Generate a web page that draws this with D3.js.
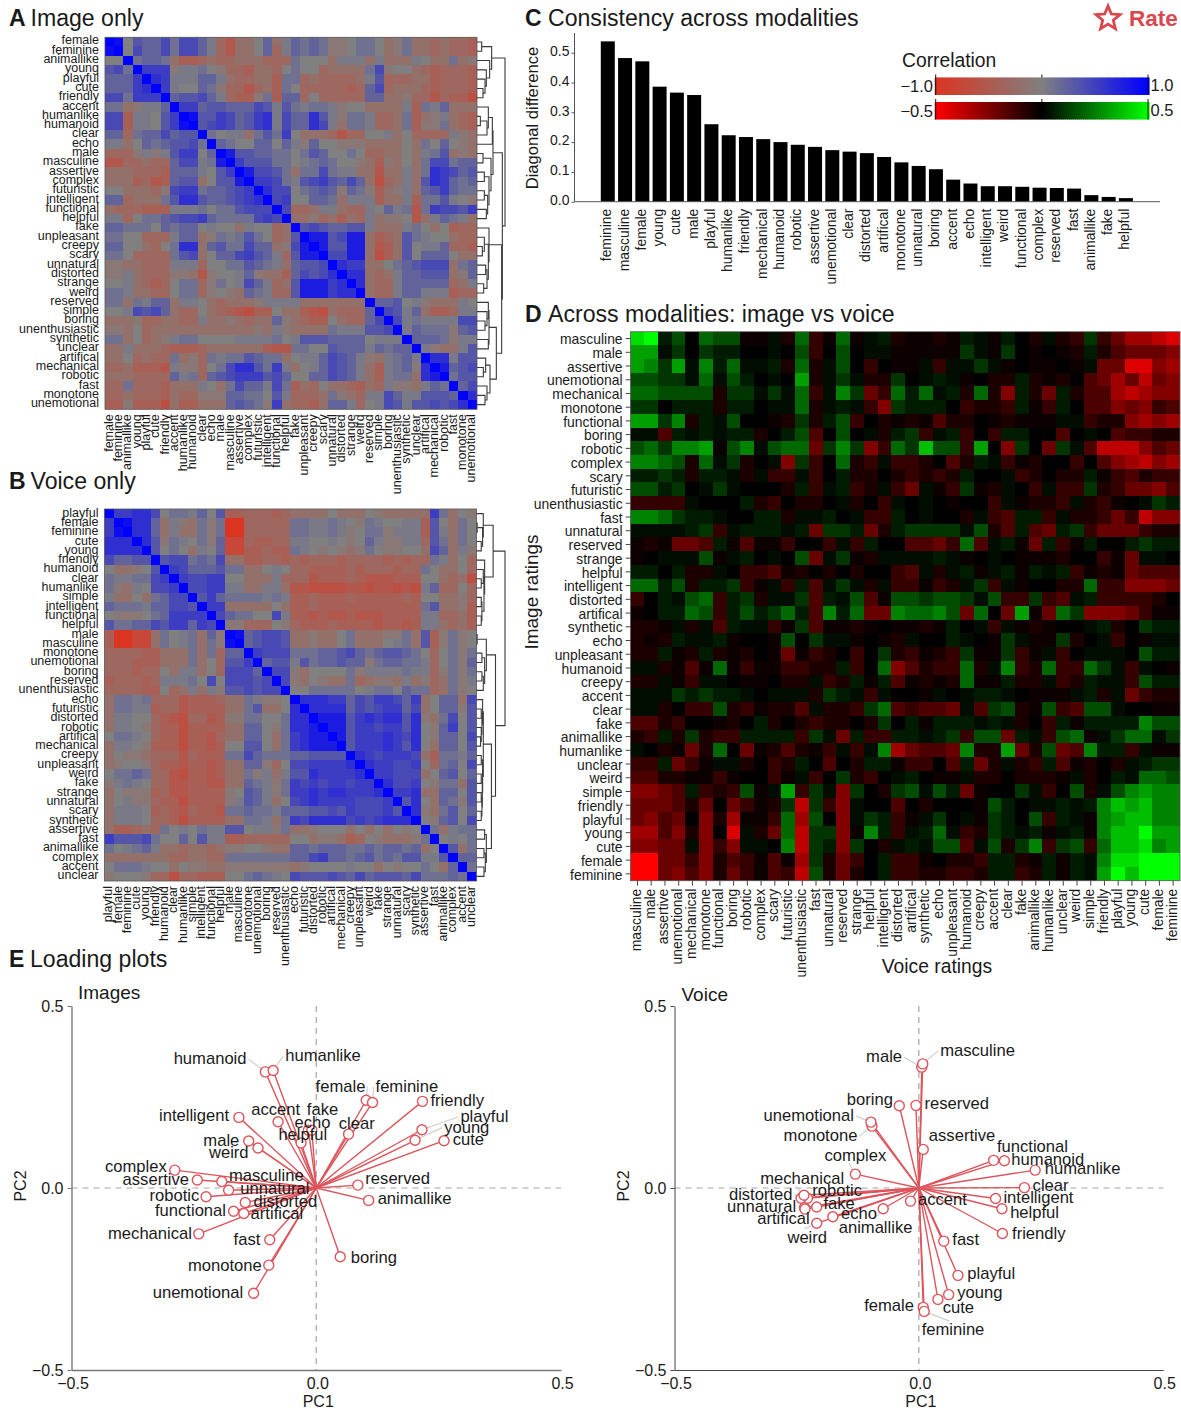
<!DOCTYPE html>
<html><head><meta charset="utf-8">
<script src="https://cdn.jsdelivr.net/npm/d3@7"></script>
<style>
html,body{margin:0;padding:0;background:#fff}
svg{display:block}
text{font-family:"Liberation Sans",Arimo,Helvetica,Arial,sans-serif;fill:#1a1a1a}
</style></head><body><svg id="c" width="1181" height="1413"><defs><filter id="soft" x="-2%" y="-2%" width="104%" height="104%"><feGaussianBlur stdDeviation="0.55"/></filter></defs></svg>
<script>
// ---------- labels ----------
const imageOrder = ["female","feminine","animallike","young","playful","cute","friendly","accent","humanlike","humanoid","clear","echo","male","masculine","assertive","complex","futuristic","intelligent","functional","helpful","fake","unpleasant","creepy","scary","unnatural","distorted","strange","weird","reserved","simple","boring","unenthusiastic","synthetic","unclear","artifical","mechanical","robotic","fast","monotone","unemotional"];
const voiceOrder = ["playful","female","feminine","cute","young","friendly","humanoid","clear","humanlike","simple","intelligent","functional","helpful","male","masculine","monotone","unemotional","boring","reserved","unenthusiastic","echo","futuristic","distorted","robotic","artifical","mechanical","creepy","unpleasant","weird","fake","strange","unnatural","scary","synthetic","assertive","fast","animallike","complex","accent","unclear"];
const crossOrder = ["masculine","male","assertive","unemotional","mechanical","monotone","functional","boring","robotic","complex","scary","futuristic","unenthusiastic","fast","unnatural","reserved","strange","helpful","intelligent","distorted","artifical","synthetic","echo","unpleasant","humanoid","creepy","accent","clear","fake","animallike","humanlike","unclear","weird","simple","friendly","playful","young","cute","female","feminine"];

// ---------- heatmap values: one char per cell, tenths of full scale.
// 1-9 / X = +0.1..+1.0, 0 = zero, a-j = -0.1..-1.0.  A and B: upper triangle from the diagonal.
const imageCorr = [
"X904335255 31cebb03b1 3232aa0220 ba2bbcbccd",
"X05335255 31cebb03c1 3232aa0220 ba2bbcbccd",
"X2332bdd cbccbbbccc 2000b111b1 bbb10bb2ba",
"X666a11 20accdbbc0 200cbbbb25 a00bcdcccd",
"X76111 331bccbbd2 2cbccccb14 cccbbdcccd",
"X6100 32accecbd2 0cccccdc35 cbbbcdcccd",
"X344 531cdda2d3 3c0ccccc33 bbaccecddf",
"X66 3443335414 21221a00bb bb1d213bbb",
"X9 4465346715 33741a221c cb2dba1bcd",
"X 4565346715 33751b221c cb2daa2bcd",
"X2011b2426 0bbbcecc00 1b0cccc1ab",
"X32003303 1a300aaabb bb0b2030ab",
"X8443322 02430020cc bb0b124bab",
"X644422 0123200abd ab0b255233",
"X85542 b225211bbe bb1b276534",
"X6652 14564353bf cb1b476323",
"X755 02343a32ad ba1b346322",
"X56 00332b111d bb1d22410a",
"X5 ccb11bcc10 312e265546",
"X bbacbdbc1b aa0eb1321b",
"X45433441b bb120b0dcc",
"X884588bd cb42100bcc",
"X84488be db40113ccd",
"X5588bf db403330bb",
"X766bb 0234555b23",
"X77bc b133444ba3",
"X7bc c133333cb1",
"Xbc c133111dcc",
"X3 3401abbb10",
"X 5413bddc11",
"X512111155","X13222a34","X3332a11","X1abb14","X77144","X8345","X244","X35","X7","X"];

const voiceCorr = [
"X667750221 304ddcccdc bbbb0bbb0a bbbbb62b0a",
"X9773b1ab 2a2jjccccc 2211210a21 0011d40b20",
"X773b1bb 2a2jjccccc 221121a022 a111d41b20",
"X74a210 2a3ggcddcc 110010a031 aa11c42b20",
"X4020b 103ggddcdd 210a0aba20 aa00b53b1a",
"X4552 325bbddccd cdcccdcccc dcdcc21b0c",
"X653 33422bb010 ccddddcdcc cdcc20bb0c",
"X65 56600bbb1c ccedddcdee eddd00bcbf",
"X5 56611bb11b eeffffeefe efef13cc0c",
"X 4632222121 ddcdddcddd ddcd00bbac",
"X66bbbbb0b ddcddddddd dddd24bbad",
"X53220051 ddedeedeee dddd11ccbd",
"Xaaccc0a cdddcdddde dded11bcbd",
"X934554 bbabb02bbb aa2b4da2a0",
"X34554 bbabb02bbb 012b4da2a0",
"X6555 2223345323 44320c02a2",
"X344 14233433a2 33221c02a3",
"X55 ab00002a11 11211ca2a2",
"X5 ab0abb2cba ab1bacb2a1",
"X 0022222012 20322cb2a0",
"X777663546 6536b033b5",
"X77773545 6635b033a4",
"X8884676 7747ab2504",
"X884665 66470a3604",
"X84666 76570a3305",
"X4666 76470b3304",
"X765 6665bd2213",
"X76 65560c2305",
"X6 6555b03403",
"X 75560a22b4",
"X667bb3304","X470b32a4","X7ab2403","X0a3405","X2b122","X0102","X4b2","X33","X2","X"];

const crossCorr = [
"9X240544aa 1b5ca5a12b aaba21a20b 1bc3cegghi",
"7713032200 104c04011a aaaa31a30a 0ab2bdeeef",
"7637162511 2b5b140c0a a1c1131a0a a0a1eeiifg",
"4433151420 107b131bb3 0121a0bb2b ab0degehef",
"554444b331 315c163ec5 2512b5bf2b e2bddghgff",
"330222b220 115b121cf3 2220cbbc2a c20ddfefcd",
"7736b21400 ab3b24c0ba badbb0abaa a11cbbfgfg",
"11d212122b 024d0401b2 3c12c0c220 0d010dccbb",
"453667a461 455e363fc5 3844c70f30 e31dhhhfde",
"6654b513b0 1f3c05bc1c cb0db21cab 00c0dfghfg",
"2232b221b1 cc1c02bb0b cbcb2001cb 0bb2acdbcc",
"4423013100 0b2c12cb1c e1ac3ab10c 1cc3bceefd",
"cccc10002b c0bb01b0c1 010a00c1ab bc1bca0132",
"6653221002 2b11201cc2 0100b1cd22 c1bbcechff",
"111123c122 212e332eb2 333314bd2d e23ceeecbb",
"abaeed2ada ac00c1c200 ddec5d12ae 2ca2002322",
"a01114a120 104e13ab11 1121a010aa ab00cae110",
"2202bb10cc dab0b0b00c d1b12a12a2 12cabaeddd",
"5524b223ca 1c2d131b1c cacb13c1a0 0bb5ccfffe",
"c02145c23b 113d214da4 4344314cc3 cd12ccccb0",
"a02254c242 352d625ee6 5564e50e7a e53fffecaa",
"bba1b1d211 ca3daaba0a aba201c1ab a0012b0322",
"bab2112a00 a40311a0ab 100210a31a a3b01c0a11",
"bb2ab2bab0 aeacb0c03b cabc3aa3ca 1c01110422",
"11bada5aca accbb2c05f dbcc5b16cb 5cc531c10a",
"bb1ac110aa 0bb1cb2a2d abab5aa2bb 1cb211c422",
"1113232210 111b321c10 0a1012210a aa12b1ecbb",
"11b0cc4bca bbd1bbc35d cdde1d34ba 4cd44100aa",
"ddbc00ab02 b0bcbb0b30 2a222121b0 c2a2222644",
"bc2b3bcc22 22c31e2cc2 2123c44e21 c45a135513",
"10baeb50ea bdbac1c16g edde6bb7eb 4ed622c1aa",
"cc2eca11b0 cb20d0b22a cc0d2eb1bc 2dab0b1233",
"ddbbaaca00 ca1c03bc01 20aa1bb0bb ba1b021554",
"ffed2cbc4a 17c31f30b3 4142ea0031 c04b146766",
"eeedbe0eca b3h3cf100d 0b000a4201 1212687866",
"efde0fbgaa c5g40f132c a1301a3204 c21a678866",
"ggdfbf0i1b e5h33fa62c 1251cb3212 a12a688X77",
"ffee1fcf11 06h32f30b1 2144d14b36 c34c588967",
"jjeecfbdca dag3bec02c ca0bbc22ba 2a21699XXX",
"jjefdfbeca dch4beb02c cbbccb22cb 2a217X8XXX"];

// ---------- consistency bars ----------
const diagNames = ["feminine","masculine","female","young","cute","male","playful","humanlike","friendly","mechanical","humanoid","robotic","assertive","unemotional","clear","distorted","artifical","monotone","unnatural","boring","accent","echo","intelligent","weird","functional","complex","reserved","fast","animallike","fake","helpful"];
const diagValues = [.538,.482,.471,.386,.366,.358,.26,.223,.217,.21,.2,.191,.184,.173,.168,.163,.15,.132,.12,.109,.074,.061,.052,.052,.05,.047,.046,.044,.022,.016,.012];

// ---------- loadings ----------
const loadNames = ["humanoid","humanlike","female","feminine","friendly","playful","young","cute","intelligent","accent","fake","echo","helpful","clear","male","weird","complex","assertive","masculine","unnatural","robotic","distorted","functional","artifical","mechanical","fast","monotone","unemotional","reserved","animallike","boring"];
const imagePC1 = [-.104,-.088,.102,.115,.217,.216,.202,.261,-.158,-.078,-.016,-.009,-.031,.066,-.138,-.119,-.289,-.243,-.193,-.179,-.225,-.145,-.169,-.148,-.24,-.095,-.097,-.128,.085,.107,.049];
const imagePC2 = [.319,.323,.241,.235,.238,.16,.131,.13,.194,.182,.159,.159,.124,.148,.129,.11,.049,.022,.018,-.006,-.024,-.04,-.064,-.07,-.126,-.142,-.212,-.289,.008,-.034,-.189];
const voicePC1 = [.175,.238,.009,.011,.171,.08,.061,.039,.157,-.017,-.209,-.176,.17,.216,.006,-.209,-.13,.009,.008,-.234,-.228,-.241,.153,-.233,-.235,.051,-.096,-.098,-.006,-.073,-.04];
const voicePC2 = [.075,.049,-.328,-.339,-.125,-.24,-.293,-.306,-.029,-.036,-.052,-.079,-.057,.001,.332,-.097,.038,.106,.341,-.054,-.028,-.028,.076,-.058,-.02,-.146,.17,.181,.227,-.057,.226];

// ---------- dendrogram merges: [height, child, child]; a child is a row index or a merge ----------
const imageTree = [120,[80,[50,0,1],[74,2,[64,3,[60,4,[54,5,6]]]]],
 [112,[84,[82,[70,7,[66,[46,8,9],10]],11],[78,[54,12,13],[72,[58,14,15],[68,[58,16,17],[64,18,19]]]]],
  [110,[72,20,[70,[58,21,[52,22,23]],[66,[62,24,25],[56,26,27]]]],
   [94,[72,[70,28,[66,29,[60,30,31]]],[70,32,33]],[75,[62,34,[55,35,36]],[66,37,[60,38,39]]]]]]];
const voiceTree = [120,[85,[56,0,[54,[38,1,2],[50,3,4]]],[60,5,[58,[56,6,[50,7,8]],[52,[50,9,10],[50,11,12]]]]],
 [92,[65,[38,13,14],[60,[52,15,16],[56,[52,17,18],19]]],
  [80,[56,[54,20,[52,[50,21,22],[50,23,[48,24,25]]]],[54,[50,26,27],[53,[50,28,29],[52,[50,30,31],[50,32,33]]]]],
   [65,[60,34,35],[62,[58,36,37],[58,38,39]]]]]];

// ---------- layout (not data) ----------
const imageLabelLayout = {humanoid:["end",-18.8,-7.7,1],humanlike:["start",12,-9,1],female:["end",-.8,-8.7,1],feminine:["start",3,-10.7,1],friendly:["start",8,4.7],playful:["start",38.4,-8,1],young:["start",29,-7.7,1],cute:["start",8.7,4.3],intelligent:["end",-9.8,3.7],accent:["start",-26.9,-6.7],fake:["start",-1.6,-15],echo:["start",-17.4,-1.7],helpful:["start",-22.7,-3],clear:["start",-9.8,-4.7],male:["end",-9.4,5],weird:["end",-9.4,10.3],complex:["end",-8,1.7],assertive:["end",-8.3,5],masculine:["start",7.2,-.7],unnatural:["start",11.7,3.7],robotic:["end",-6.8,4],distorted:["start",8.3,4],functional:["end",-7.5,4.7],artifical:["start",6.8,6],mechanical:["end",-6.8,4.7],fast:["end",-9.4,5.3],monotone:["end",-7,5.7],unemotional:["end",-10.5,5],reserved:["start",7.5,-1],animallike:["start",9,3.7],boring:["start",10.5,6]};
const voiceLabelLayout = {masculine:["start",17.4,-8,1],male:["end",-19.7,-5,1],boring:["end",-6.3,-.7],reserved:["start",8.5,3.7],unemotional:["end",-17,-1,1],monotone:["end",-14.5,15,1],assertive:["start",5.6,-8.7],functional:["start",3.3,-8.7],humanoid:["start",7,4.3],humanlike:["start",9.6,4],complex:["start",-30.9,-13,2],clear:["start",8.2,3],intelligent:["start",7.8,4],helpful:["start",8.2,9.7],friendly:["start",9.6,5.7],accent:["start",7.4,4.3],animallike:["start",-44.5,24.3,2],echo:["start",8.2,2.3],fake:["start",6.7,2],robotic:["start",4.8,-1.7],distorted:["end",-8.5,1.7,1],mechanical:["start",-43.8,-11,2],unnatural:["end",-8.2,4],artifical:["end",4.8,15.3],weird:["start",-29.3,19.3,2],fast:["start",8.5,4],playful:["start",9.3,3.7],young:["start",8.5,3.7],cute:["start",4.8,13.3],female:["end",-9.3,4],feminine:["start",-2.6,23.7,2]};

// ---------- helpers ----------
const svg = d3.select("#c");
const cellValue = ch => ch==="X"?1 : /[0-9]/.test(ch)?+ch/10 : -(ch.charCodeAt(0)-96)/10;
// the tenths were judged by eye: they are perceptual steps, so map them back onto the colour ramp
const corrStep = v => v>=0 ? Math.pow(v,1.25) : Math.max(-1,v*1.1);
const crossStep = v => Math.sign(v)*Math.pow(Math.abs(v),1.3);
const corrColor = d3.scaleLinear().domain([-1,0,1]).range(["#dc3522","#808080","#0000ff"]);
const crossColor = d3.scaleLinear().domain([-.5,0,.5]).range(["#ff0000","#000000","#00ff00"]);

function symCells(rows,names){
  const out=[];
  rows.forEach((r,i)=>{[...r.replace(/\s/g,"")].forEach((ch,k)=>{
    const j=i+k; if(j>=names.length) return;
    const v=corrStep(cellValue(ch));
    out.push({r:names[i],c:names[j],v});
    if(j!==i) out.push({r:names[j],c:names[i],v});
  });});
  return out;
}
function rectCells(rows,rowNames,colNames){
  const out=[];
  rows.forEach((r,i)=>{[...r.replace(/\s/g,"")].forEach((ch,j)=>{
    if(j<colNames.length) out.push({r:rowNames[i],c:colNames[j],v:crossStep(cellValue(ch))*.5});
  });});
  return out;
}
function rotateLabels(g,pad){
  g.selectAll("text").attr("transform","rotate(-90)").attr("x",-pad).attr("y",0).attr("dy",".25em").style("text-anchor","end");
}
function heat(x0,y0,w,h,rowNames,colNames,cells,color,fs,tick,pad,pad2,rowDy){
  const x=d3.scaleBand().domain(colNames).range([x0,x0+w]);
  const y=d3.scaleBand().domain(rowNames).range([y0,y0+h]);
  const g=svg.append("g");
  const clipId="clip"+Math.round(x0+y0);
  svg.select("defs").append("clipPath").attr("id",clipId).append("rect").attr("x",x0).attr("y",y0).attr("width",w).attr("height",h);
  g.append("g").attr("clip-path",`url(#${clipId})`).append("g").attr("filter","url(#soft)").selectAll("rect").data(cells).join("rect")
    .attr("x",d=>x(d.c)-.2).attr("y",d=>y(d.r)-.2).attr("width",x.bandwidth()+.6).attr("height",y.bandwidth()+.6)
    .attr("shape-rendering","crispEdges").attr("fill",d=>color(d.v));
  g.append("rect").attr("x",x0).attr("y",y0).attr("width",w).attr("height",h).attr("fill","none").attr("stroke","#555").attr("stroke-width",.8);
  const la=svg.append("g").attr("transform",`translate(${x0},0)`).call(d3.axisLeft(y).tickSize(tick).tickPadding(pad));
  const ba=svg.append("g").attr("transform",`translate(0,${y0+h})`).call(d3.axisBottom(x).tickSize(tick).tickPadding(pad));
  rotateLabels(ba,pad2);
  la.selectAll("text").attr("dy",rowDy);
  [la,ba].forEach(a=>{a.select(".domain").remove();a.selectAll("text").style("font-size",fs+"px");a.selectAll("line").attr("stroke","#444");a.attr("font-family",null);});
}
function dendro(tree,x0,y0,rowH,hMax){
  const hx=d3.scaleLinear().domain([36,120]).range([x0,hMax]);
  const paths=[];
  const walk=n=>{
    if(typeof n==="number") return {x:x0,y:y0+rowH*(n+.5)};
    const a=walk(n[1]),b=walk(n[2]),x=hx(n[0]);
    paths.push(`M${a.x},${a.y}H${x}V${b.y}H${b.x}`);
    return {x,y:(a.y+b.y)/2};
  };
  walk(tree);
  svg.append("g").selectAll("path").data(paths).join("path").attr("d",d=>d).attr("fill","none").attr("stroke","#3a3a3a").attr("stroke-width",1.1);
}
function title(letter,rest,x,xRest,y){
  svg.append("text").attr("x",x).attr("y",y).style("font-size","23px").style("font-weight","700").text(letter);
  svg.append("text").attr("x",xRest).attr("y",y).style("font-size","23.1px").text(rest);
}

// ---------- panels A, B, D ----------
heat(105,37.3,372,372,imageOrder,imageOrder,symCells(imageCorr,imageOrder),corrColor,12.5,0,6,5,".2em");
dendro(imageTree,477,37.3,9.3,505);
heat(104.5,509,372,372,voiceOrder,voiceOrder,symCells(voiceCorr,voiceOrder),corrColor,12.5,0,6,5,".24em");
dendro(voiceTree,476.5,509,9.3,505);
heat(630.6,331.7,549.4,549,crossOrder,crossOrder,rectCells(crossCorr,crossOrder,crossOrder),crossColor,13.9,5,3,8,".41em");

title("A","Image only",9,30.5,26);
title("B","Voice only",9,30.5,488.5);
title("C","Consistency across modalities",525,548,26);
title("D","Across modalities: image vs voice",525,548,321.5);
title("E","Loading plots",9,30,966.5);

svg.append("text").attr("x",937).attr("y",973).attr("text-anchor","middle").style("font-size","19.3px").text("Voice ratings");
svg.append("text").attr("transform","translate(538,592) rotate(-90)").attr("text-anchor","middle").style("font-size","19px").text("Image ratings");

// ---------- panel C ----------
{
  const x=d3.scaleBand().domain(diagNames).range([600.8,1132.9]).paddingInner(.19);
  const y=d3.scaleLinear().domain([0,.5]).range([201.7,52.7]);
  svg.append("g").selectAll("rect").data(diagValues).join("rect")
    .attr("x",(d,i)=>x(diagNames[i])).attr("y",d=>y(d)).attr("width",x.bandwidth()).attr("height",d=>y(0)-y(d)).attr("fill","#000");
  const ya=svg.append("g").attr("transform","translate(574.5,0)").call(d3.axisLeft(y).tickValues([0,.1,.2,.3,.4,.5]).tickFormat(d3.format(".1f")).tickSize(3).tickPadding(2));
  ya.select(".domain").remove();
  ya.selectAll("text").style("font-size","14px").attr("dy",".2em"); ya.attr("font-family",null);
  ya.selectAll("line").attr("stroke","#555");
  svg.append("path").attr("d","M574.5,33V201.7H1160").attr("fill","none").attr("stroke","#555").attr("stroke-width",1);
  const xa=svg.append("g").attr("transform","translate(0,201.7)").call(d3.axisBottom(x).tickSize(0).tickPadding(3));
  xa.select(".domain").remove(); xa.attr("font-family",null);
  rotateLabels(xa,7);
  xa.selectAll("text").style("font-size","13.9px");
  svg.append("text").attr("transform","translate(538,118) rotate(-90)").attr("text-anchor","middle").style("font-size","16.6px").text("Diagonal difference");
}

// ---------- legends ----------
svg.append("text").attr("x",902).attr("y",66.5).style("font-size","19.3px").text("Correlation");
function colorbar(y0,y1,lo,hi,color){
  const x=d3.scaleLinear().domain([lo,hi]).range([935.7,1148]);
  const g=svg.append("g");
  g.selectAll("rect").data(d3.range(0,107).map(i=>lo+(hi-lo)*i/106)).join("rect")
   .attr("x",d=>x(d)-1).attr("y",y0).attr("width",2.6).attr("height",y1-y0).attr("fill",d=>color(d));
  g.append("path").attr("d",`M${x(lo)},${y0-3}V${y1}M${x(hi)},${y0-3}V${y1}M${x(0)},${y0-3}V${y0}`).attr("stroke","#111").attr("fill","none");
  const f=d3.format(".1f");
  g.append("text").attr("x",933).attr("y",(y0+y1)/2+6).attr("text-anchor","end").style("font-size","16.5px").text(f(lo));
  g.append("text").attr("x",1150.5).attr("y",(y0+y1)/2+5).style("font-size","16.5px").text(f(hi));
}
colorbar(77.5,95,-1,1,corrColor);
colorbar(102,119.5,-.5,.5,crossColor);

// ---------- Rate mark ----------
{
  const star=d3.lineRadial().curve(d3.curveLinearClosed).angle(d=>d.a).radius(d=>d.r);
  const pts=d3.range(10).map(i=>({a:i*Math.PI/5,r:i%2?5.6:12.6}));
  svg.append("path").attr("transform","translate(1108,18.5)").attr("d",star(pts)).attr("fill","none").attr("stroke","#d9484f").attr("stroke-width",2.8).attr("stroke-linejoin","miter");
  svg.append("text").attr("x",1129).attr("y",26).style("font-size","22.5px").style("font-weight","700").style("fill","#d9484f").text("Rate");
}

// ---------- panel E ----------
function loading(xr,pc1,pc2,layout,axisColor,axisW,sub,subX,subY){
  const x=d3.scaleLinear().domain([-.5,.5]).range(xr);
  const y=d3.scaleLinear().domain([-.5,.5]).range([1370,1006]);
  const pts=loadNames.map((n,i)=>({n,x:x(pc1[i]),y:y(pc2[i]),l:layout[n]}));
  const g=svg.append("g");
  g.append("path").attr("d",`M${x(-.5)},${y(0)}H${x(.5)}M${x(0)},${y(.5)}V${y(-.5)}`).attr("stroke","#a5a5a5").attr("stroke-width",1.2).attr("stroke-dasharray","6 5").attr("fill","none");
  const ya=g.append("g").attr("transform",`translate(${x(-.5)},0)`).call(d3.axisLeft(y).tickValues([-.5,0,.5]).tickFormat(d3.format(".1f")).tickSize(4).tickPadding(4).tickSizeOuter(0));
  const xa=g.append("g").attr("transform",`translate(0,${y(-.5)})`).call(d3.axisBottom(x).tickValues([-.5,0,.5]).tickFormat(d3.format(".1f")).tickSize(0).tickPadding(8).tickSizeOuter(0));
  [ya,xa].forEach(a=>{a.attr("font-family",null);a.select(".domain").attr("stroke",axisColor).attr("stroke-width",axisW);a.selectAll("line").attr("stroke",axisColor);a.selectAll("text").style("font-size","16px");});
  xa.selectAll("text").attr("dx",1);
  g.append("g").selectAll("path").data(pts.filter(p=>p.l[3])).join("path")
    .attr("d",p=>{
      const lx=p.x+p.l[1]+(p.l[3]===2?p.n.length*3.5:(p.l[0]==="end"?2:-2)), ly=p.y+p.l[2]+(p.l[3]===2?(p.l[2]<0?2:-14):-5);
      return `M${p.x},${p.y}L${lx},${ly}`;
    }).attr("stroke","#cfcfcf").attr("stroke-width",1.2).attr("fill","none");
  g.append("g").selectAll("line").data(pts).join("line")
    .attr("x1",x(0)).attr("y1",y(0)).attr("x2",p=>p.x).attr("y2",p=>p.y).attr("stroke","#dd555c").attr("stroke-width",1.4);
  g.append("g").selectAll("circle").data(pts).join("circle")
    .attr("cx",p=>p.x).attr("cy",p=>p.y).attr("r",5).attr("fill","#fff").attr("stroke","#dd555c").attr("stroke-width",1.4);
  g.append("g").selectAll("text").data(pts).join("text")
    .attr("x",p=>p.x+p.l[1]).attr("y",p=>p.y+p.l[2]).attr("text-anchor",p=>p.l[0]).style("font-size","16.6px").text(p=>p.n);
  g.append("text").attr("x",subX).attr("y",subY).style("font-size","19px").text(sub);
  g.append("text").attr("x",x(0)+2).attr("y",1407).attr("text-anchor","middle").style("font-size","16px").text("PC1");
  g.append("text").attr("transform",`translate(${x(-.5)-46},1186) rotate(-90)`).attr("text-anchor","middle").style("font-size","16px").text("PC2");
}
loading([71.5,561],imagePC1,imagePC2,imageLabelLayout,"#777",1.4,"Images",78,999);
loading([674.5,1163.2],voicePC1,voicePC2,voiceLabelLayout,"#444",1,"Voice",681.5,1000.5);
</script></body></html>
